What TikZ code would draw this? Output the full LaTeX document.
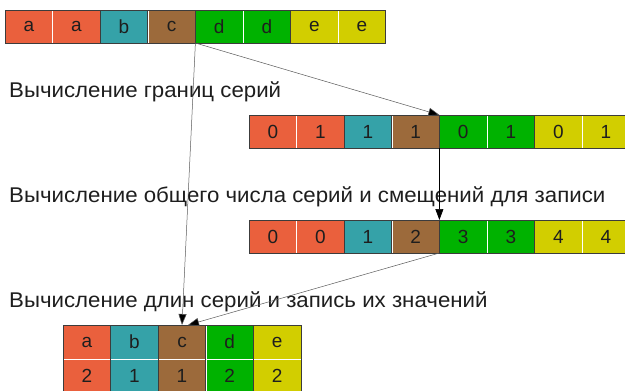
\documentclass[tikz,border=0pt]{standalone}
\usepackage{fontspec}
\setmainfont{Liberation Sans}
\newfontfamily\capfont[FakeStretch=1.045]{Liberation Sans}
\usetikzlibrary{arrows.meta}

\definecolor{cOrange}{HTML}{EA603D}
\definecolor{cTeal}{HTML}{35A2A8}
\definecolor{cBrown}{HTML}{9C6A3B}
\definecolor{cGreen}{HTML}{00B200}
\definecolor{cYellow}{HTML}{D2CE00}
\definecolor{cEdge}{HTML}{3C3C3C}
\definecolor{cText}{HTML}{1E1E1E}

\tikzset{
  cell/.style={minimum width=47.6pt, minimum height=33pt, inner sep=0pt, outer sep=0pt,
    draw=white, line width=0.6pt, text=cText, font=\fontsize{19}{21}\selectfont},
  group/.style={draw=cEdge, line width=0.7pt},
  caption/.style={anchor=base west, inner sep=0pt, text=cText, font=\capfont\fontsize{21.3}{24}\selectfont},
  link/.style={draw=black!65, line width=0.5pt, -{Triangle[length=11pt,width=8pt,fill=black]}},
  drop/.style={draw=black, line width=0.7pt, -{Triangle[length=11pt,width=8pt,fill=black]}},
}

% one row of eight cells: #1 name prefix, #2 left x, #3 top y, #4 labels
\newcommand{\cellrow}[4]{%
  \foreach \lab [count=\i] in {#4} {
    \pgfmathsetmacro{\cx}{#2+47.6*(\i-0.5)}
    \pgfmathtruncatemacro{\g}{int((\i+1)/2)}
    \ifcase\g\or\def\cc{cOrange}\or\ifnum\i=3\def\cc{cTeal}\else\def\cc{cBrown}\fi\or\def\cc{cGreen}\or\def\cc{cYellow}\fi
    \node[cell, fill=\cc] (#1\i) at (\cx, #3+16.5) {\lab};
  }
  \draw[group] (#11.north west) rectangle (#12.south east);
  \draw[group] (#13.north west) rectangle (#13.south east);
  \draw[group] (#14.north west) rectangle (#14.south east);
  \draw[group] (#15.north west) rectangle (#16.south east);
  \draw[group] (#17.north west) rectangle (#18.south east);
}

\begin{document}
\begin{tikzpicture}[x=1pt, y=-1pt]
  \useasboundingbox (0,0) rectangle (625,391);
  \begin{scope}
    \clip (0,0) rectangle (625,391);

    % input sequence
    \cellrow{t}{5}{10}{a,a,b,c,d,d,e,e}
    % run boundaries
    \cellrow{b}{249}{115}{0,1,1,1,0,1,0,1}
    % run count and write offsets
    \cellrow{o}{249}{220}{0,0,1,2,3,3,4,4}

    % output table: values and run lengths
    \foreach \v/\n/\cc [count=\i] in {a/2/cOrange, b/1/cTeal, c/1/cBrown, d/2/cGreen, e/2/cYellow} {
      \pgfmathsetmacro{\cx}{63+47.6*(\i-0.5)}
      \node[cell, fill=\cc, minimum height=34pt] (v\i) at (\cx, 342) {\v};
      \node[cell, fill=\cc, minimum height=34pt] (n\i) at (\cx, 376) {\n};
      \draw[group] (v\i.north west) rectangle (n\i.south east);
    }

    % step captions
    \node[caption] (s1) at (9, 97) {Вычисление границ серий};
    \node[caption] (s2) at (9, 202) {Вычисление общего числа серий и смещений для записи};
    \node[caption] (s3) at (9, 307) {Вычисление длин серий и запись их значений};

    % data flow
    \draw[link] (t4.south east) -- (b5.north west);
    \draw[link] (t4.south east) -- (v3.north);
    \draw[drop] (b5.south west) -- (o5.north west);
    \draw[link] (o5.south west) -- ([xshift=6pt]v3.north);
  \end{scope}
\end{tikzpicture}
\end{document}
